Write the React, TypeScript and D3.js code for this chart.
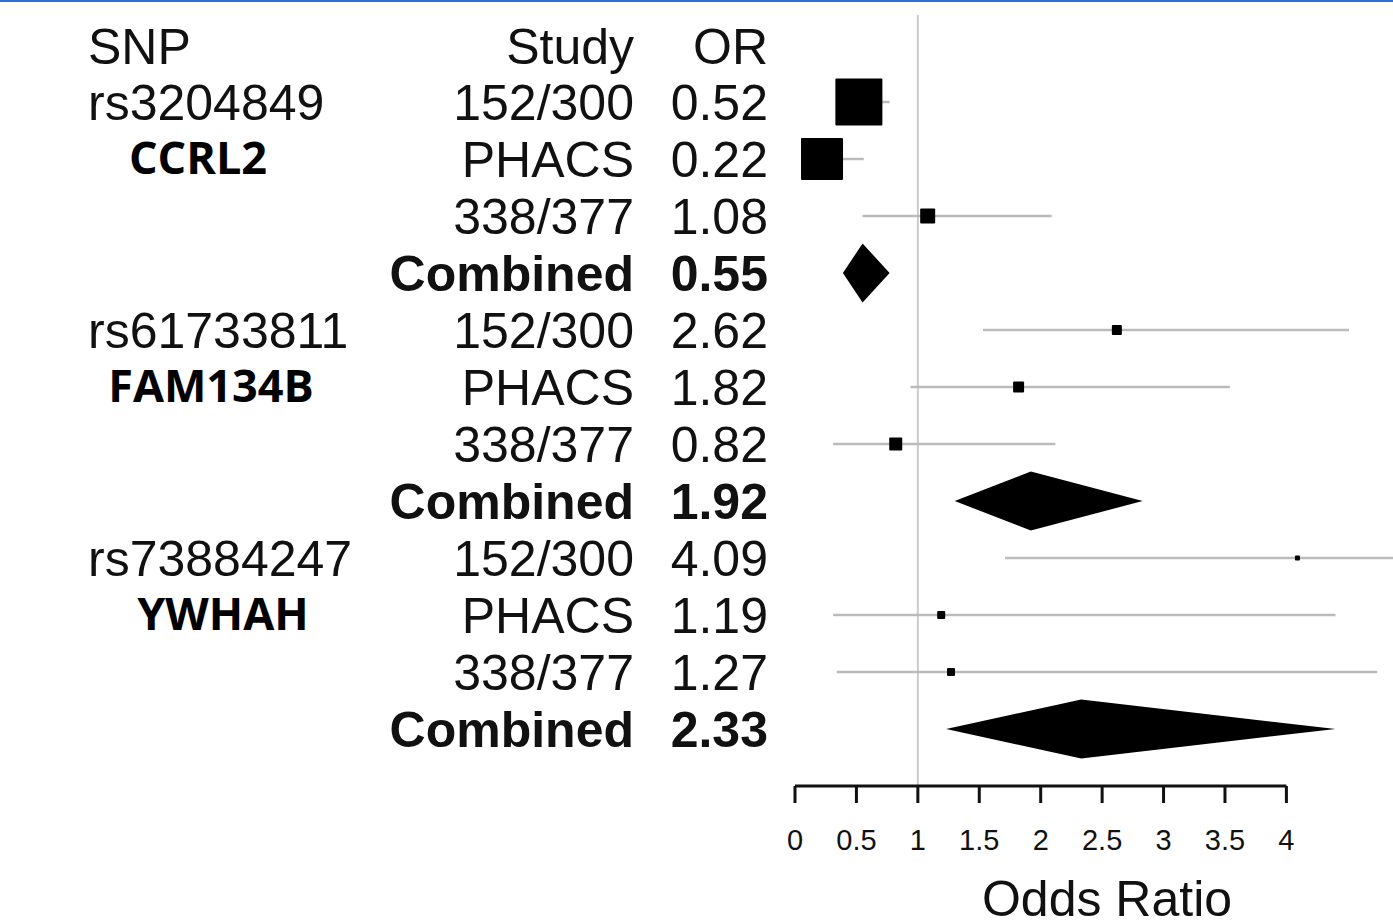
import React from "react";
import * as d3 from "d3";

// ---- data ----
const snps = ["rs3204849", "rs61733811", "rs73884247"];
const genes = ["CCRL2", "FAM134B", "YWHAH"];
const studies = ["152/300", "PHACS", "338/377", "Combined"];
const orValues = [
  [0.52, 0.22, 1.08, 0.55],
  [2.62, 1.82, 0.82, 1.92],
  [4.09, 1.19, 1.27, 2.33],
];
const orLabels = [
  ["0.52", "0.22", "1.08", "0.55"],
  ["2.62", "1.82", "0.82", "1.92"],
  ["4.09", "1.19", "1.27", "2.33"],
];
const ciLower = [
  [0.35, 0.09, 0.55, 0.39],
  [1.53, 0.94, 0.31, 1.3],
  [1.71, 0.31, 0.34, 1.23],
];
const ciUpper = [
  [0.77, 0.56, 2.09, 0.77],
  [4.51, 3.54, 2.12, 2.83],
  [9.77, 4.4, 4.74, 4.4],
];
// relative study weights (box size)
const weights = [
  [47, 42, 15, 0],
  [10, 11, 13, 0],
  [5, 8, 8, 0],
];
const xTicks = [0, 0.5, 1, 1.5, 2, 2.5, 3, 3.5, 4];
const xTickLabels = ["0", "0.5", "1", "1.5", "2", "2.5", "3", "3.5", "4"];

// ---- layout ----
const W = 1393;
const H = 922;
const geneCenterX = [198, 211, 223];
const FONT = "'Liberation Sans', Arial, Helvetica, sans-serif";

export default function App() {
  const x = d3.scaleLinear().domain([0, 4]).range([795, 1286.4]);
  const nRows = snps.length * studies.length;
  const y = d3
    .scaleLinear()
    .domain([0, nRows - 1])
    .range([102, 729]);

  const rows: any[] = [];
  snps.forEach((snp, g) => {
    studies.forEach((st, s) => {
      rows.push({
        g,
        s,
        idx: g * studies.length + s,
        study: st,
        or: orValues[g][s],
        label: orLabels[g][s],
        lo: ciLower[g][s],
        hi: ciUpper[g][s],
        w: weights[g][s],
        combined: st === "Combined",
      });
    });
  });

  const axisY = 786;
  const diamondHalf = 29.5;
  const FS = 50;

  return (
    <div>
      <style>{`body{margin:0;background:#fff}`}</style>
      <svg width={W} height={H} style={{ display: "block" }}>
        <rect x={0} y={0} width={W} height={H} fill="#fff" />
        <rect x={0} y={0} width={W} height={2} fill="#2f6fd2" />
        <defs>
          <clipPath id="plotclip">
            <rect x={0} y={0} width={W} height={H} />
          </clipPath>
        </defs>

        {/* reference line at OR = 1 */}
        <line
          x1={x(1)}
          x2={x(1)}
          y1={15}
          y2={axisY}
          stroke="#cccccc"
          strokeWidth={2}
        />

        {/* header */}
        <g fontFamily={FONT} fontSize={FS} fill="#111">
          <text x={88} y={47} dominantBaseline="central">
            SNP
          </text>
          <text x={634} y={47} textAnchor="end" dominantBaseline="central">
            Study
          </text>
          <text x={768} y={47} textAnchor="end" dominantBaseline="central">
            OR
          </text>
        </g>

        {/* SNP / gene labels */}
        {snps.map((snp, g) => (
          <g key={snp}>
            <text
              x={88}
              y={y(g * studies.length) + 1}
              fontFamily={FONT}
              fontSize={FS}
              fill="#111"
              dominantBaseline="central"
            >
              {snp}
            </text>
            <text
              x={geneCenterX[g]}
              y={y(g * studies.length + 1) - 3}
              fontFamily="'Open Sans', 'Noto Sans', sans-serif"
              fontWeight="bold"
              fontSize={45}
              fill="#000"
              textAnchor="middle"
              dominantBaseline="central"
            >
              {genes[g]}
            </text>
          </g>
        ))}

        {/* study + OR columns */}
        {rows.map((r) => (
          <g
            key={"t" + r.idx}
            fontFamily={FONT}
            fontSize={FS}
            fontWeight={r.combined ? "bold" : "normal"}
            fill="#111"
          >
            <text
              x={634}
              y={y(r.idx) + 1}
              textAnchor="end"
              dominantBaseline="central"
            >
              {r.study}
            </text>
            <text
              x={768}
              y={y(r.idx) + 1}
              textAnchor="end"
              dominantBaseline="central"
            >
              {r.label}
            </text>
          </g>
        ))}

        {/* marks */}
        <g clipPath="url(#plotclip)">
          {rows.map((r) => {
            const cy = y(r.idx);
            if (r.combined) {
              const pts = [
                [x(r.lo), cy],
                [x(r.or), cy - diamondHalf],
                [x(r.hi), cy],
                [x(r.or), cy + diamondHalf],
              ];
              return (
                <polygon
                  key={"m" + r.idx}
                  points={pts.map((p) => p.join(",")).join(" ")}
                  fill="#000"
                />
              );
            }
            return (
              <g key={"m" + r.idx}>
                <line
                  x1={x(r.lo)}
                  x2={x(r.hi)}
                  y1={cy}
                  y2={cy}
                  stroke="#bbbbbb"
                  strokeWidth={2.5}
                />
                <rect
                  x={x(r.or) - r.w / 2}
                  y={cy - r.w / 2}
                  width={r.w}
                  height={r.w}
                  rx={1}
                  fill="#000"
                />
              </g>
            );
          })}
        </g>

        {/* x axis */}
        <g>
          <line
            x1={x(0)}
            x2={x(4)}
            y1={axisY}
            y2={axisY}
            stroke="#111"
            strokeWidth={3}
          />
          {xTicks.map((t, i) => (
            <g key={"tick" + i}>
              <line
                x1={x(t)}
                x2={x(t)}
                y1={axisY}
                y2={axisY + 17}
                stroke="#111"
                strokeWidth={3}
              />
              <text
                x={x(t)}
                y={840}
                textAnchor="middle"
                dominantBaseline="central"
                fontFamily={FONT}
                fontSize={29}
                fill="#111"
              >
                {xTickLabels[i]}
              </text>
            </g>
          ))}
          <text
            x={1107}
            y={916}
            textAnchor="middle"
            fontFamily={FONT}
            fontSize={50}
            fill="#111"
          >
            Odds Ratio
          </text>
        </g>
      </svg>
    </div>
  );
}
